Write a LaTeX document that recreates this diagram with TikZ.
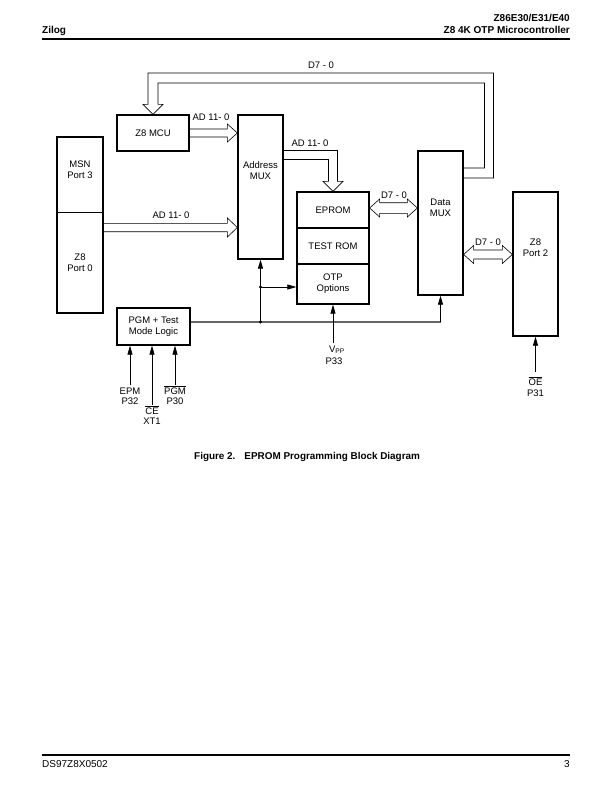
\documentclass[tikz,border=0pt]{standalone}
\usepackage{fontspec}
\setmainfont{Liberation Sans}
\usetikzlibrary{calc,arrows.meta}
\newcommand{\dfont}{\fontsize{9.5}{10.8}\selectfont}
\newcommand{\hfont}{\fontsize{10}{12}\selectfont\bfseries}
\newcommand{\ovl}[1]{$\overline{\mbox{#1}}$}
\begin{document}
\begin{tikzpicture}[x=1pt,y=-1pt,
  box/.style={draw, line width=1.3pt, inner sep=0pt, align=center, font=\dfont},
  txt/.style={inner sep=0pt, align=center, font=\dfont},
  lbl/.style={inner sep=0pt, anchor=base, font=\dfont},
  busline/.style={line width=0.6pt, line join=miter},
  ctl/.style={line width=0.7pt, -{Triangle[length=9pt,width=5pt]}},
  gline/.style={line width=1.1pt, black!60},
  rulefill/.style={fill=black, draw=none}
]
\useasboundingbox[fill=white] (0,0) rectangle (612,792);

% header / footer
\node[anchor=base west, inner sep=0pt, font=\hfont] (hz) at (42,34) {Zilog};
\node[anchor=base east, inner sep=0pt, font=\hfont] (h1) at (570,22) {Z86E30/E31/E40};
\node[anchor=base east, inner sep=0pt, font=\hfont] (h2) at (570,34) {Z8 4K OTP Microcontroller};
\fill[rulefill] (42,38.5) rectangle (570,40.5);
\fill[rulefill] (42,753.5) rectangle (570,755.5);
\node[anchor=base west, inner sep=0pt, font=\fontsize{10}{12}\selectfont] (f1) at (42,767) {DS97Z8X0502};
\node[anchor=base east, inner sep=0pt, font=\fontsize{10}{12}\selectfont] (f2) at (570,767) {3};

% boxes
\node[box, minimum width=72pt, minimum height=36pt] (mcu) at (153,133) {Z8 MCU};
\node[box, minimum width=45pt, minimum height=144pt] (amux) at (260.5,187) {};
\node[txt] (amuxt) at (260.5,171) {Address\\MUX};
\node[box, minimum width=46pt, minimum height=176pt] (p30) at (80,225) {};
\draw[line width=0.7pt] (p30.west |- 0,212) -- (p30.east |- 0,212);
\node[txt] (p3t) at (80,170) {MSN\\Port 3};
\node[txt] (p0t) at (80,263) {Z8\\Port 0};
\node[box, minimum width=72pt, minimum height=36pt] (eprom) at (333,210) {EPROM};
\node[box, minimum width=72pt, minimum height=36pt] (trom) at (333,246) {TEST ROM};
\node[box, minimum width=72pt, minimum height=40pt] (otp) at (333,284) {OTP\\Options};
\node[box, minimum width=45pt, minimum height=144pt] (dmux) at (440.5,223) {};
\node[txt] (dmuxt) at (440.5,208) {Data\\MUX};
\node[box, minimum width=45pt, minimum height=144pt] (port2) at (535.5,264) {};
\node[txt] (port2t) at (535.5,248) {Z8\\Port 2};
\node[box, minimum width=73pt, minimum height=37pt] (pgm) at (153.5,326.5) {PGM + Test\\Mode Logic};

% bus MCU -> Address MUX
\coordinate (b1s) at (mcu.east);
\coordinate (b1t) at (amux.west |- mcu.east);
\draw[busline] ($(b1s)+(0,-4)$) -- ($(b1t)+(-10,-4)$) -- ++(0,-5) -- (b1t) -- ($(b1t)+(-10,9)$) -- ++(0,-5) -- ($(b1s)+(0,4)$);
\node[txt] (l1) at (211,117) {AD 11- 0};

% bus Port 0 -> Address MUX
\coordinate (b2s) at (p30.east |- 0,227.5);
\coordinate (b2t) at (amux.west |- b2s);
\draw[busline] ($(b2s)+(0,-4.2)$) -- ($(b2t)+(-10,-4.2)$) -- ++(0,-5.3) -- (b2t) -- ($(b2t)+(-10,9.5)$) -- ++(0,-5.3) -- ($(b2s)+(0,4.2)$);
\node[txt] (l2) at (171,215) {AD 11- 0};

% bus Address MUX -> EPROM
\coordinate (b3s) at (amux.east |- 0,155);
\coordinate (b3t) at (eprom.north);
\coordinate (b3c) at (b3t |- b3s);
\draw[busline] ($(b3s)+(0,-4.5)$) -- ($(b3c)+(4.5,-4.5)$) -- ($(b3t)+(4.5,-10)$) -- ++(5.5,0) -- (b3t) -- ($(b3t)+(-10,-10)$) -- ++(5.5,0) -- ($(b3c)+(-4.5,4.5)$) -- ($(b3s)+(0,4.5)$);
\node[txt] (l3) at (310,143) {AD 11- 0};

% bus Data MUX -> Z8 MCU (top loop)
\coordinate (b4s) at (dmux.east |- 0,173);
\coordinate (b4d) at (489,78);
\coordinate (b4t) at (mcu.north);
\coordinate (b4a) at (b4d |- b4s);
\coordinate (b4b) at (b4t |- b4d);
\draw[busline] ($(b4s)+(0,5)$) -- ($(b4a)+(4.5,5)$) -- ($(b4d)+(4.5,-5)$) -- ($(b4b)+(-5,-5)$) -- ($(b4t)+(-5,-10)$) -- ++(-5,0) -- (b4t) -- ($(b4t)+(10,-10)$) -- ++(-5,0) -- ($(b4b)+(5,5)$) -- ($(b4d)+(-4.5,5)$) -- ($(b4a)+(-4.5,-5)$) -- ($(b4s)+(0,-5)$);
\node[txt] (l4) at (321,65) {D7 - 0};

% bus EPROM <-> Data MUX
\coordinate (b5l) at (eprom.east |- 0,208);
\coordinate (b5r) at (dmux.west |- b5l);
\draw[busline] (b5l) -- ++(10,-9) -- ++(0,3.7) -- ($(b5r)+(-10,-5.3)$) -- ++(0,-3.7) -- (b5r) -- ++(-10,9) -- ++(0,-3.7) -- ($(b5l)+(10,5.3)$) -- ++(0,3.7) -- cycle;
\node[txt] (l5) at (394,195) {D7 - 0};

% bus Data MUX <-> Port 2
\coordinate (b6l) at (dmux.east |- 0,254.5);
\coordinate (b6r) at (port2.west |- b6l);
\draw[busline] (b6l) -- ++(10,-9) -- ++(0,4.5) -- ($(b6r)+(-10,-4.5)$) -- ++(0,-4.5) -- (b6r) -- ++(-10,9) -- ++(0,-4.5) -- ($(b6l)+(10,4.5)$) -- ++(0,4.5) -- cycle;
\node[txt] (l6) at (488,242) {D7 - 0};

% control lines
\coordinate (c0) at (pgm.east |- 0,322);
\coordinate (c1) at (dmux.south |- c0);
\coordinate (j1) at (amux.south |- c0);
\coordinate (j2) at (amux.south |- 0,287);
\draw[gline] (c0) -- (c1);
\draw[ctl] (c1) -- (dmux.south);
\draw[ctl] (j1) -- (amux.south);
\draw[ctl] (j2) -- (otp.west |- j2);
\fill (j1) circle (1.7pt);
\fill (j2) circle (1.7pt);

% Vpp
\coordinate (vpp) at (otp.south |- 0,343);
\draw[ctl] (vpp) -- (otp.south);
\node[lbl] (vppl) at (337,352.5) {V\textsubscript{PP}};
\node[lbl] (p33l) at (334,364) {P33};

% PGM inputs
\coordinate (epm) at (130,385);
\coordinate (ce) at (152,405);
\coordinate (pgi) at (175,385);
\draw[ctl] (epm) -- (epm |- pgm.south);
\draw[ctl] (ce) -- (ce |- pgm.south);
\draw[ctl] (pgi) -- (pgi |- pgm.south);
\node[lbl] (epml) at (130,394.3) {EPM};
\node[lbl] (p32l) at (130,404.5) {P32};
\node[lbl] (cel) at (152,414.3) {\ovl{CE}};
\node[lbl] (xt1l) at (152,424.3) {XT1};
\node[lbl] (pgml) at (175,394.3) {\ovl{PGM}};
\node[lbl] (p30l) at (175,404.5) {P30};

% OE
\coordinate (oe) at (535.5,372);
\draw[ctl] (oe) -- (port2.south);
\node[lbl] (oel) at (535.5,385) {\ovl{OE}};
\node[lbl] (p31l) at (535.5,396.7) {P31};

% caption
\node[anchor=base west, inner sep=0pt, font=\fontsize{9.9}{11}\selectfont\bfseries] (cap) at (194,459) {Figure 2.\hspace{9pt}EPROM Programming Block Diagram};
\end{tikzpicture}
\end{document}
